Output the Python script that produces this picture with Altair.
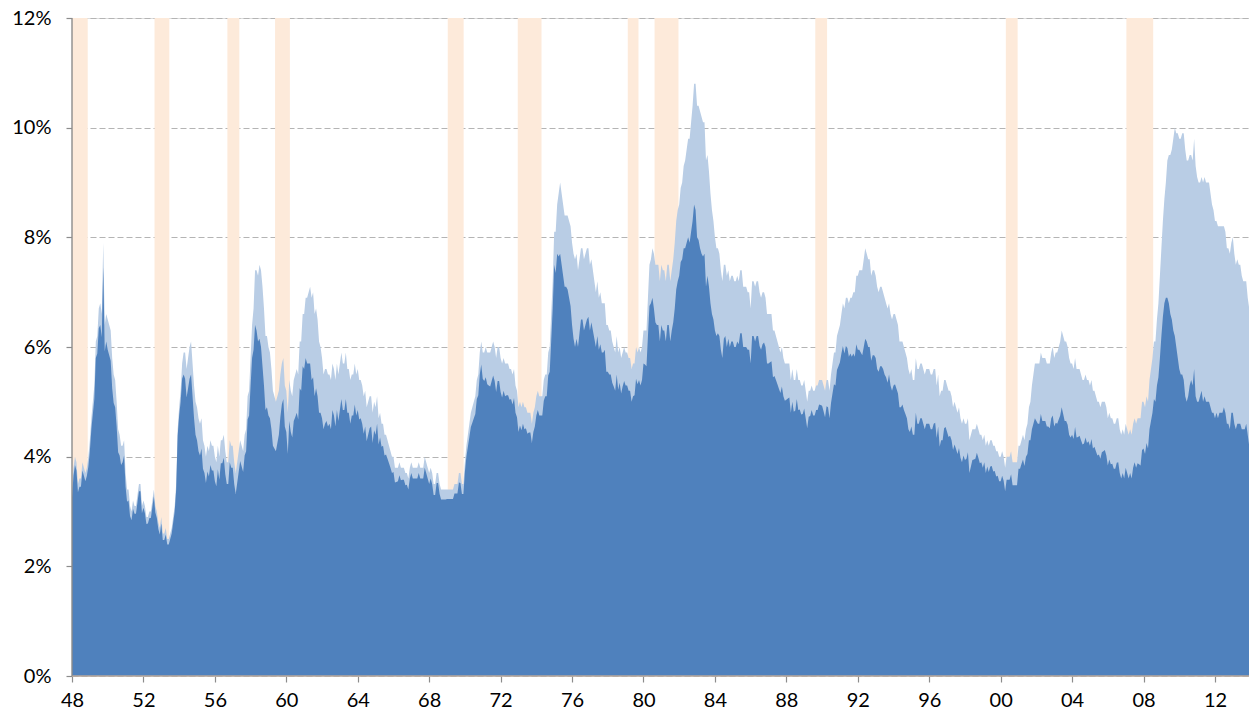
import altair as alt
import pandas as pd

START_YEAR = 1948  # first month: January 1948, monthly data

# Total unemployment rate (%), monthly, Jan 1948 - May 2014 (light blue area)
total_rate = [
    3.4, 3.8, 4.0, 3.9, 3.5, 3.6, 3.6, 3.9, 3.8, 3.7, 3.8, 4.0,   # 1948
    4.3, 4.7, 5.0, 5.3, 6.1, 6.2, 6.7, 6.8, 6.6, 7.9, 6.4, 6.6,   # 1949
    6.5, 6.4, 6.3, 5.8, 5.5, 5.4, 5.0, 4.5, 4.4, 4.2, 4.2, 4.3,   # 1950
    3.7, 3.4, 3.4, 3.1, 3.0, 3.2, 3.1, 3.1, 3.3, 3.5, 3.5, 3.1,   # 1951
    3.2, 3.1, 2.9, 2.9, 3.0, 3.0, 3.2, 3.4, 3.1, 3.0, 2.8, 2.7,   # 1952
    2.9, 2.6, 2.6, 2.7, 2.5, 2.5, 2.6, 2.7, 2.9, 3.1, 3.5, 4.5,   # 1953
    4.9, 5.2, 5.7, 5.9, 5.9, 5.6, 5.8, 6.0, 6.1, 5.7, 5.3, 5.0,   # 1954
    4.9, 4.7, 4.6, 4.7, 4.3, 4.2, 4.0, 4.2, 4.1, 4.3, 4.2, 4.2,   # 1955
    4.0, 3.9, 4.2, 4.0, 4.3, 4.3, 4.4, 4.1, 3.9, 3.9, 4.3, 4.2,   # 1956
    4.2, 3.9, 3.7, 3.9, 4.1, 4.3, 4.2, 4.1, 4.4, 4.5, 5.1, 5.2,   # 1957
    5.8, 6.4, 6.7, 7.4, 7.4, 7.3, 7.5, 7.4, 7.1, 6.7, 6.2, 6.2,   # 1958
    6.0, 5.9, 5.6, 5.2, 5.1, 5.0, 5.1, 5.2, 5.5, 5.7, 5.8, 5.3,   # 1959
    5.2, 4.8, 5.4, 5.2, 5.1, 5.4, 5.5, 5.6, 5.5, 6.1, 6.1, 6.6,   # 1960
    6.6, 6.9, 6.9, 7.0, 7.1, 6.9, 7.0, 6.6, 6.7, 6.5, 6.1, 6.0,   # 1961
    5.8, 5.5, 5.6, 5.6, 5.5, 5.5, 5.4, 5.7, 5.6, 5.4, 5.7, 5.5,   # 1962
    5.7, 5.9, 5.7, 5.7, 5.9, 5.6, 5.6, 5.4, 5.5, 5.5, 5.7, 5.5,   # 1963
    5.6, 5.4, 5.4, 5.3, 5.1, 5.2, 4.9, 5.0, 5.1, 5.1, 4.8, 5.0,   # 1964
    4.9, 5.1, 4.7, 4.8, 4.6, 4.6, 4.4, 4.4, 4.3, 4.2, 4.1, 4.0,   # 1965
    4.0, 3.8, 3.8, 3.8, 3.9, 3.8, 3.8, 3.8, 3.7, 3.7, 3.6, 3.8,   # 1966
    3.9, 3.8, 3.8, 3.8, 3.8, 3.9, 3.8, 3.8, 3.8, 4.0, 3.9, 3.8,   # 1967
    3.7, 3.8, 3.7, 3.5, 3.5, 3.7, 3.7, 3.5, 3.4, 3.4, 3.4, 3.4,   # 1968
    3.4, 3.4, 3.4, 3.4, 3.4, 3.5, 3.5, 3.5, 3.7, 3.7, 3.5, 3.5,   # 1969
    3.9, 4.2, 4.4, 4.6, 4.8, 4.9, 5.0, 5.1, 5.4, 5.5, 5.9, 6.1,   # 1970
    5.9, 5.9, 6.0, 5.9, 5.9, 5.9, 6.0, 6.1, 6.0, 5.8, 6.0, 6.0,   # 1971
    5.8, 5.7, 5.8, 5.7, 5.7, 5.7, 5.6, 5.6, 5.5, 5.6, 5.3, 5.2,   # 1972
    4.9, 5.0, 4.9, 5.0, 4.9, 4.9, 4.8, 4.8, 4.8, 4.6, 4.8, 4.9,   # 1973
    5.1, 5.2, 5.1, 5.1, 5.1, 5.4, 5.5, 5.5, 5.9, 6.0, 6.6, 7.2,   # 1974
    8.1, 8.1, 8.6, 8.8, 9.0, 8.8, 8.6, 8.4, 8.4, 8.4, 8.3, 8.2,   # 1975
    7.9, 7.7, 7.6, 7.7, 7.4, 7.6, 7.8, 7.8, 7.6, 7.7, 7.8, 7.8,   # 1976
    7.5, 7.6, 7.4, 7.2, 7.0, 7.2, 6.9, 7.0, 6.8, 6.8, 6.8, 6.4,   # 1977
    6.4, 6.3, 6.3, 6.1, 6.0, 5.9, 6.2, 5.9, 6.0, 5.8, 5.9, 6.0,   # 1978
    5.9, 5.9, 5.8, 5.8, 5.6, 5.7, 5.7, 6.0, 5.9, 6.0, 5.9, 6.0,   # 1979
    6.3, 6.3, 6.3, 6.9, 7.5, 7.6, 7.8, 7.7, 7.5, 7.5, 7.5, 7.2,   # 1980
    7.5, 7.4, 7.4, 7.2, 7.5, 7.5, 7.2, 7.4, 7.6, 7.9, 8.3, 8.5,   # 1981
    8.6, 8.9, 9.0, 9.3, 9.4, 9.6, 9.8, 9.8, 10.1, 10.4, 10.8, 10.8,  # 1982
    10.4, 10.4, 10.3, 10.2, 10.1, 10.1, 9.4, 9.5, 9.2, 8.8, 8.5, 8.3,  # 1983
    8.0, 7.8, 7.8, 7.7, 7.4, 7.2, 7.5, 7.5, 7.3, 7.4, 7.2, 7.3,   # 1984
    7.3, 7.2, 7.2, 7.3, 7.2, 7.4, 7.4, 7.1, 7.1, 7.1, 7.0, 7.0,   # 1985
    6.7, 7.2, 7.2, 7.1, 7.2, 7.2, 7.0, 6.9, 7.0, 7.0, 6.9, 6.6,   # 1986
    6.6, 6.6, 6.6, 6.3, 6.3, 6.2, 6.1, 6.0, 5.9, 6.0, 5.8, 5.7,   # 1987
    5.7, 5.7, 5.7, 5.4, 5.6, 5.4, 5.4, 5.6, 5.4, 5.4, 5.3, 5.3,   # 1988
    5.4, 5.2, 5.0, 5.2, 5.2, 5.3, 5.2, 5.2, 5.3, 5.3, 5.4, 5.4,   # 1989
    5.4, 5.3, 5.2, 5.4, 5.4, 5.2, 5.5, 5.7, 5.9, 5.9, 6.2, 6.3,   # 1990
    6.4, 6.6, 6.8, 6.7, 6.9, 6.9, 6.8, 6.9, 6.9, 7.0, 7.0, 7.3,   # 1991
    7.3, 7.4, 7.4, 7.4, 7.6, 7.8, 7.7, 7.6, 7.6, 7.3, 7.4, 7.4,   # 1992
    7.3, 7.1, 7.0, 7.1, 7.1, 7.0, 6.9, 6.8, 6.7, 6.8, 6.6, 6.5,   # 1993
    6.6, 6.6, 6.5, 6.4, 6.1, 6.1, 6.1, 6.0, 5.9, 5.8, 5.6, 5.5,   # 1994
    5.6, 5.4, 5.4, 5.8, 5.6, 5.6, 5.7, 5.7, 5.6, 5.5, 5.6, 5.6,   # 1995
    5.6, 5.5, 5.5, 5.6, 5.6, 5.3, 5.5, 5.1, 5.2, 5.2, 5.4, 5.4,   # 1996
    5.3, 5.2, 5.2, 5.1, 4.9, 5.0, 4.9, 4.8, 4.9, 4.7, 4.6, 4.7,   # 1997
    4.6, 4.6, 4.7, 4.3, 4.4, 4.5, 4.5, 4.5, 4.6, 4.5, 4.4, 4.4,   # 1998
    4.3, 4.4, 4.2, 4.3, 4.2, 4.3, 4.3, 4.2, 4.2, 4.1, 4.1, 4.0,   # 1999
    4.0, 4.1, 4.0, 3.8, 4.0, 4.0, 4.0, 4.1, 3.9, 3.9, 3.9, 3.9,   # 2000
    4.2, 4.2, 4.3, 4.4, 4.3, 4.5, 4.6, 4.9, 5.0, 5.3, 5.5, 5.7,   # 2001
    5.7, 5.7, 5.7, 5.9, 5.8, 5.8, 5.8, 5.7, 5.7, 5.7, 5.9, 6.0,   # 2002
    5.8, 5.9, 5.9, 6.0, 6.1, 6.3, 6.2, 6.1, 6.1, 6.0, 5.8, 5.7,   # 2003
    5.7, 5.6, 5.8, 5.6, 5.6, 5.6, 5.5, 5.4, 5.4, 5.5, 5.4, 5.4,   # 2004
    5.3, 5.4, 5.2, 5.2, 5.1, 5.0, 5.0, 4.9, 5.0, 5.0, 5.0, 4.9,   # 2005
    4.7, 4.8, 4.7, 4.7, 4.6, 4.6, 4.7, 4.7, 4.5, 4.4, 4.5, 4.4,   # 2006
    4.6, 4.5, 4.4, 4.5, 4.4, 4.6, 4.7, 4.6, 4.7, 4.7, 4.7, 5.0,   # 2007
    5.0, 4.9, 5.1, 5.0, 5.4, 5.6, 5.8, 6.1, 6.1, 6.5, 6.8, 7.3,   # 2008
    7.8, 8.3, 8.7, 9.0, 9.4, 9.5, 9.5, 9.6, 9.8, 10.0, 9.9, 9.9,  # 2009
    9.8, 9.8, 9.9, 9.9, 9.6, 9.4, 9.4, 9.5, 9.5, 9.4, 9.8, 9.3,   # 2010
    9.1, 9.0, 9.0, 9.1, 9.0, 9.1, 9.0, 9.0, 9.0, 8.8, 8.6, 8.5,   # 2011
    8.3, 8.3, 8.2, 8.2, 8.2, 8.2, 8.2, 8.1, 7.8, 7.8, 7.7, 7.9,   # 2012
    8.0, 7.7, 7.5, 7.6, 7.5, 7.5, 7.3, 7.2, 7.2, 7.2, 6.9, 6.7,   # 2013
    6.6, 6.7, 6.7, 6.3, 6.3,                                      # 2014
]

# Long-term (27+ weeks) unemployment rate (%), monthly, same months
long_term_rate = [
    .15, .15, .15, .15, .15, .15, .15, .15, .15, .15, .15, .18,   # 1948
    .20, .20, .22, .25, .30, .32, .36, .40, .42, .45, .48, .50,   # 1949
    .55, .55, .55, .55, .52, .50, .45, .42, .38, .35, .30, .28,   # 1950
    .25, .22, .20, .18, .16, .15, .14, .14, .13, .13, .13, .13,   # 1951
    .13, .13, .13, .12, .12, .12, .12, .12, .12, .12, .12, .12,   # 1952
    .12, .12, .12, .12, .10, .10, .10, .10, .10, .10, .10, .12,   # 1953
    .15, .20, .28, .40, .48, .52, .55, .58, .60, .60, .60, .60,   # 1954
    .60, .60, .58, .55, .52, .50, .48, .47, .46, .45, .45, .45,   # 1955
    .45, .44, .43, .42, .42, .42, .42, .42, .40, .40, .40, .40,   # 1956
    .40, .40, .38, .38, .38, .38, .38, .38, .38, .40, .42, .45,   # 1957
    .50, .60, .75, 1.0, 1.1, 1.2, 1.35, 1.4, 1.45, 1.4, 1.35, 1.3,  # 1958
    1.25, 1.2, 1.1, 1.0, .95, .90, .85, .80, .78, .75, .75, .75,  # 1959
    .75, .75, .75, .75, .75, .75, .78, .80, .82, .85, .90, .95,   # 1960
    1.0, 1.1, 1.2, 1.3, 1.4, 1.5, 1.55, 1.5, 1.45, 1.4, 1.3, 1.2,  # 1961
    1.1, 1.0, 1.0, .95, .95, .90, .90, .85, .85, .85, .85, .85,   # 1962
    .85, .85, .85, .85, .85, .80, .80, .80, .75, .75, .75, .75,   # 1963
    .75, .72, .70, .70, .68, .65, .62, .60, .58, .55, .55, .52,   # 1964
    .50, .50, .48, .45, .42, .40, .38, .36, .34, .32, .30, .30,   # 1965
    .28, .27, .26, .25, .24, .23, .22, .22, .22, .21, .20, .20,   # 1966
    .20, .20, .20, .20, .20, .20, .20, .20, .20, .20, .20, .20,   # 1967
    .20, .20, .20, .20, .20, .18, .18, .18, .18, .18, .18, .18,   # 1968
    .17, .17, .17, .17, .17, .17, .17, .17, .17, .18, .18, .18,   # 1969
    .18, .20, .22, .24, .26, .28, .30, .32, .35, .38, .40, .42,   # 1970
    .48, .52, .55, .58, .60, .62, .62, .62, .62, .62, .62, .62,   # 1971
    .62, .62, .60, .60, .58, .58, .56, .55, .55, .53, .50, .48,   # 1972
    .45, .43, .42, .40, .40, .38, .38, .36, .36, .35, .35, .35,   # 1973
    .35, .35, .35, .35, .35, .38, .40, .40, .42, .45, .48, .50,   # 1974
    .60, .75, .90, 1.15, 1.3, 1.3, 1.3, 1.3, 1.3, 1.35, 1.4, 1.45,  # 1975
    1.5, 1.55, 1.6, 1.55, 1.4, 1.35, 1.3, 1.3, 1.3, 1.3, 1.3, 1.25,   # 1976
    1.2, 1.15, 1.1, 1.05, 1.0, 1.0, .95, .95, .90, .90, .85, .85,     # 1977
    .85, .80, .80, .75, .72, .70, .70, .68, .65, .65, .62, .62,   # 1978
    .60, .60, .60, .60, .60, .60, .58, .58, .58, .60, .60, .60,   # 1979
    .60, .62, .65, .70, .75, .80, .90, 1.0, 1.05, 1.1, 1.1, 1.1,  # 1980
    1.1, 1.1, 1.1, 1.1, 1.1, 1.1, 1.1, 1.1, 1.15, 1.2, 1.25, 1.3,  # 1981
    1.3, 1.35, 1.4, 1.5, 1.6, 1.7, 1.8, 1.9, 2.0, 2.1, 2.2, 2.3,   # 1982
    2.4, 2.45, 2.5, 2.5, 2.45, 2.4, 2.3, 2.2, 2.1, 2.0, 1.9, 1.8,  # 1983
    1.7, 1.6, 1.55, 1.5, 1.45, 1.4, 1.35, 1.3, 1.3, 1.25, 1.2, 1.2,  # 1984
    1.2, 1.2, 1.2, 1.2, 1.15, 1.15, 1.15, 1.1, 1.1, 1.1, 1.05, 1.05,  # 1985
    1.0, 1.0, 1.0, 1.0, 1.0, 1.0, .98, .95, .95, .92, .90, .90,   # 1986
    .90, .88, .86, .85, .83, .80, .78, .76, .74, .72, .70, .68,   # 1987
    .66, .64, .62, .60, .60, .58, .56, .55, .55, .54, .53, .52,   # 1988
    .52, .50, .48, .47, .46, .45, .45, .45, .45, .45, .45, .46,   # 1989
    .47, .47, .48, .48, .50, .50, .52, .55, .58, .60, .62, .65,   # 1990
    .68, .72, .78, .82, .88, .92, .98, 1.02, 1.08, 1.12, 1.18, 1.25,  # 1991
    1.35, 1.45, 1.5, 1.55, 1.6, 1.65, 1.6, 1.6, 1.6, 1.55, 1.55, 1.55,  # 1992
    1.5, 1.5, 1.45, 1.45, 1.45, 1.4, 1.4, 1.35, 1.35, 1.3, 1.3, 1.3,    # 1993
    1.3, 1.28, 1.26, 1.25, 1.2, 1.2, 1.15, 1.15, 1.12, 1.1, 1.1, 1.05,  # 1994
    1.05, 1.0, 1.0, 1.0, 1.0, 1.0, 1.0, 1.0, 1.0, 1.0, 1.0, 1.0,        # 1995
    1.0, 1.0, 1.0, 1.0, .98, .96, .95, .92, .90, .90, .88, .86,   # 1996
    .85, .84, .82, .80, .78, .78, .76, .75, .74, .72, .70, .68,   # 1997
    .66, .64, .62, .60, .58, .56, .55, .54, .53, .52, .52, .50,   # 1998
    .50, .50, .50, .48, .48, .48, .47, .47, .46, .46, .45, .45,   # 1999
    .45, .45, .44, .43, .42, .42, .42, .42, .42, .42, .42, .42,   # 2000
    .42, .42, .43, .45, .47, .50, .55, .60, .70, .80, .90, 1.0,   # 2001
    1.05, 1.1, 1.1, 1.12, 1.15, 1.15, 1.15, 1.15, 1.15, 1.18, 1.2, 1.25,  # 2002
    1.25, 1.28, 1.3, 1.32, 1.35, 1.4, 1.42, 1.45, 1.45, 1.42, 1.4, 1.35,  # 2003
    1.3, 1.28, 1.26, 1.25, 1.24, 1.22, 1.2, 1.18, 1.16, 1.15, 1.15, 1.12, # 2004
    1.1, 1.08, 1.05, 1.02, 1.0, .98, .96, .94, .92, .90, .88, .88,        # 2005
    .86, .85, .84, .83, .82, .82, .81, .80, .80, .80, .80, .80,   # 2006
    .80, .80, .80, .80, .80, .80, .80, .80, .82, .84, .86, .88,   # 2007
    .85, .85, .85, .85, .90, .95, 1.0, 1.05, 1.1, 1.2, 1.35, 1.5,  # 2008
    1.6, 1.75, 1.9, 2.1, 2.5, 2.7, 2.9, 3.1, 3.5, 3.8, 3.9, 4.1,   # 2009
    4.2, 4.3, 4.4, 4.5, 4.5, 4.4, 4.3, 4.2, 4.1, 4.1, 4.2, 4.2,    # 2010
    4.1, 4.0, 3.9, 3.9, 4.0, 4.0, 4.0, 4.0, 4.0, 3.9, 3.8, 3.7,    # 2011
    3.6, 3.5, 3.5, 3.4, 3.4, 3.4, 3.3, 3.3, 3.2, 3.2, 3.2, 3.1,    # 2012
    3.2, 3.1, 3.0, 3.0, 2.9, 2.9, 2.8, 2.7, 2.7, 2.6, 2.5, 2.5,    # 2013
    2.4, 2.3, 2.3, 2.1, 2.2,                                       # 2014
]

# Shaded recession bands, as drawn (start / end in years)
rec_start = [1948.00, 1952.62, 1956.70, 1959.37, 1969.04, 1972.96,
             1979.12, 1980.62, 1989.62, 2000.29, 2007.04]
rec_end = [1948.88, 1953.45, 1957.37, 1960.20, 1969.93, 1974.29,
           1979.72, 1981.96, 1990.28, 2000.95, 2008.54]

x_tick_years = list(range(1948, 2013, 4))
y_ticks = [0, 2, 4, 6, 8, 10, 12]

# ---------------------------------------------------------------------------
n = min(len(total_rate), len(long_term_rate))
df = pd.DataFrame({
    "t": [START_YEAR + i / 12 for i in range(n)],
    "total": total_rate[:n],
    "long": long_term_rate[:n],
})
df["short"] = (df["total"] - df["long"]).round(2)

rec_df = pd.DataFrame({"start": rec_start, "end": rec_end})

PLOT_W = 1177          # fits the 1257 px page (8 px margins on both sides)
PX_PER_YEAR = 17.859   # horizontal scale of the reference
x_domain = [START_YEAR, START_YEAR + PLOT_W / PX_PER_YEAR]
xscale = alt.Scale(domain=x_domain, nice=False, zero=False)
yscale = alt.Scale(domain=[0, 12], nice=False)

FONT = "Lato"
AXIS_GRAY = "#8C8C8C"

x_axis = alt.Axis(
    values=x_tick_years,
    labelExpr="substring(toString(datum.value), 2, 4)",
    grid=False, domain=False,
    ticks=True, tickSize=6, tickColor=AXIS_GRAY, tickWidth=1.2,
    labelFont=FONT, labelFontSize=20, labelColor="#000000",
    labelPadding=8, labelFlush=False, labelOverlap=False,
)
y_axis = alt.Axis(
    values=y_ticks,
    labelExpr="datum.value + '%'",
    grid=True, gridColor="#B4B4B4", gridDash=[6, 3], gridWidth=1.1,
    domain=False,
    ticks=True, tickSize=6, tickColor=AXIS_GRAY, tickWidth=1.2,
    labelFont=FONT, labelFontSize=20, labelColor="#000000",
    labelPadding=15,
)

recessions = alt.Chart(rec_df).mark_rect(color="#FDEADA", clip=True).encode(
    x=alt.X("start:Q", scale=xscale, axis=x_axis, title=None),
    x2="end:Q",
    y=alt.Y(datum=12, scale=yscale, axis=y_axis, title=None),
    y2=alt.Y2(datum=0),
)

base = alt.Chart(df)
light = base.mark_area(color="#B9CDE5", interpolate="linear", clip=True).encode(
    x=alt.X("t:Q", scale=xscale, title=None),
    y=alt.Y("total:Q", scale=yscale, title=None),
)
dark = base.mark_area(color="#4F81BD", interpolate="linear", clip=True).encode(
    x=alt.X("t:Q", scale=xscale, title=None),
    y=alt.Y("short:Q", scale=yscale, title=None),
)

left_line = alt.Chart(pd.DataFrame({"x": [START_YEAR]})).mark_rule(
    color=AXIS_GRAY, strokeWidth=1.4
).encode(x=alt.X("x:Q", scale=xscale, title=None))

bottom_line = alt.Chart(pd.DataFrame({"y": [0]})).mark_rule(
    color="#B8A89C", strokeWidth=1.4
).encode(y=alt.Y("y:Q", scale=yscale, title=None))

chart = alt.layer(recessions, light, dark, bottom_line, left_line).properties(
    width=PLOT_W,
    height=658,
    padding={"left": 64, "top": 10, "right": 0, "bottom": 37},
    autosize=alt.AutoSizeParams(type="none"),
).configure_view(stroke=None).configure(background="#FFFFFF")

chart.save("out.html", embed_options={"renderer": "svg", "actions": False})
